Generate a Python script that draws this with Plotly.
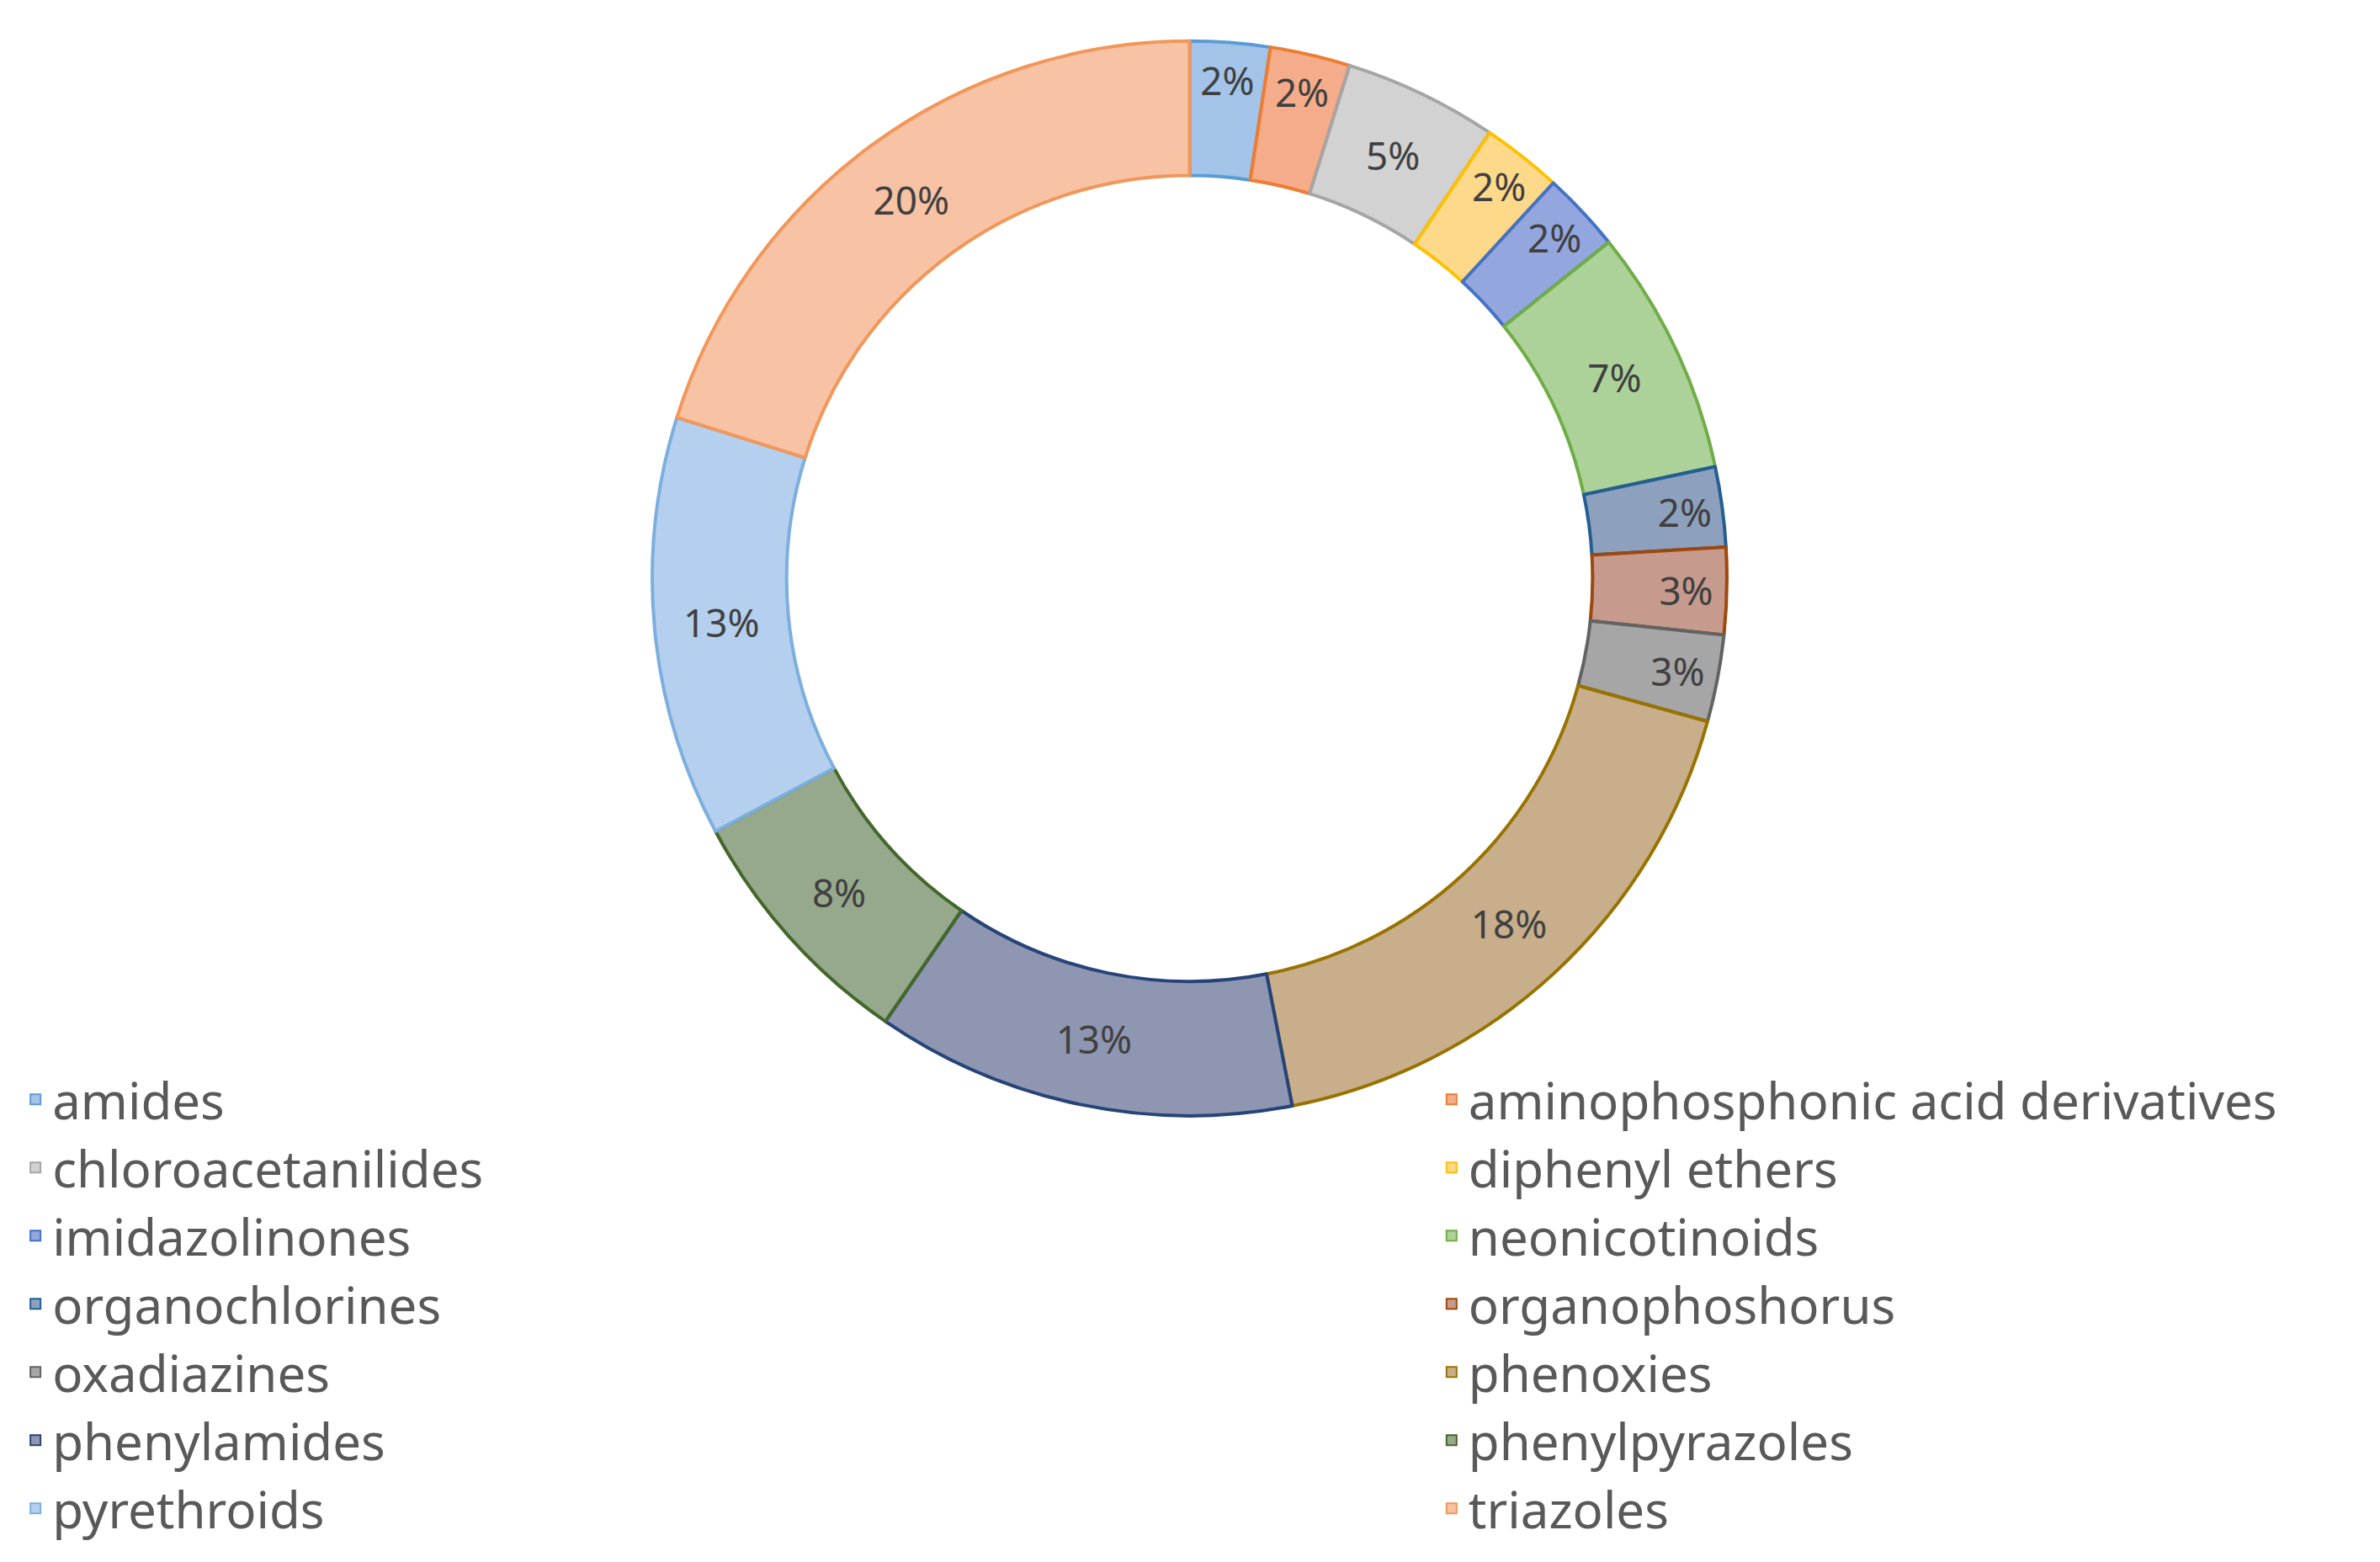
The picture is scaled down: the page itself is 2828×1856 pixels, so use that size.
import plotly.graph_objects as go

labels = ["amides", "aminophosphonic acid derivatives", "chloroacetanilides", "diphenyl ethers",
          "imidazolinones", "neonicotinoids", "organochlorines", "organophoshorus", "oxadiazines",
          "phenoxies", "phenylamides", "phenylpyrazoles", "pyrethroids", "triazoles"]
values = [2.4, 2.4, 4.6, 2.4, 2.4, 7.4, 2.4, 2.6, 2.6, 17.6, 12.6, 7.6, 12.6, 20.1]
fills = ["#A3C4E8", "#F5AC8A", "#D2D2D2", "#FFD98A", "#93A6DD", "#ACD29A", "#8DA1BE", "#C79A8E",
         "#A6A6A6", "#C8AE8A", "#8E96B2", "#96A98C", "#B5CFEE", "#F8C2A4"]
lines = ["#5B9BD5", "#ED7D31", "#A5A5A5", "#FFC000", "#4472C4", "#70AD47", "#255E91", "#9E480E",
         "#636363", "#997300", "#264478", "#43682B", "#7CAFDD", "#F1975A"]

FONT = "Liberation Sans Narrow, Noto Sans"

fig = go.Figure(go.Pie(
    labels=labels, values=values, sort=False, direction="clockwise", rotation=0,
    hole=0.75, marker=dict(colors=fills, line=dict(color=lines, width=4)),
    textinfo="percent", textposition="inside", insidetextorientation="horizontal",
    texttemplate="%{percent:.0%}",
    textfont=dict(size=66, color="#404040", family=FONT),
    domain=dict(x=[0.271, 0.723], y=[0.29, 0.978]),
    showlegend=False,
))

# legend entries: two columns, alternating
for i, (lab, fc, lc) in enumerate(zip(labels, fills, lines)):
    fig.add_trace(go.Scatter(
        x=[None], y=[None], mode="markers", name=lab,
        marker=dict(symbol="square", size=34, color=fc, line=dict(color=lc, width=4)),
        legend="legend" if i % 2 == 0 else "legend2",
    ))

legend_common = dict(orientation="v", yanchor="top", traceorder="normal",
                     font=dict(size=60, color="#595959", family=FONT),
                     itemsizing="constant", tracegroupgap=0, bgcolor="rgba(0,0,0,0)")
fig.update_layout(
    width=2828, height=1856, paper_bgcolor="white", plot_bgcolor="white",
    margin=dict(l=0, r=0, t=0, b=0),
    xaxis=dict(visible=False), yaxis=dict(visible=False),
    uniformtext=dict(minsize=40, mode="show"),
    legend=dict(x=0.005, y=0.325, xanchor="left", **legend_common),
    legend2=dict(x=0.6, y=0.325, xanchor="left", **legend_common),
)
fig.write_html("out.html")
